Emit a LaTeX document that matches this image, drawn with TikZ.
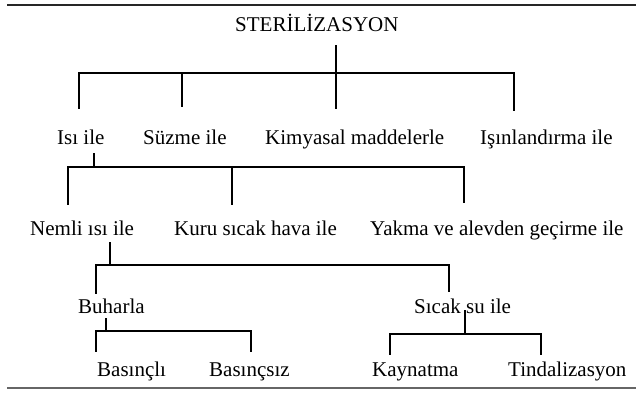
\documentclass[tikz,border=0pt]{standalone}
\usepackage{fontspec}
\setmainfont{Liberation Serif}
\begin{document}
\begin{tikzpicture}[x=1pt,y=-1pt,
  lbl/.style={inner sep=0pt, anchor=base west, font=\fontsize{21}{24}\selectfont},
  conn/.style={line width=1.8pt, line cap=rect, line join=miter},
  rule/.style={line width=2pt, black!85},
  lightrule/.style={line width=1.2pt, black!60}]
\useasboundingbox (0,0) rectangle (643,401);
% rules
\coordinate (tl) at (7,5);
\coordinate (tr) at (636,5);
\coordinate (bl) at (7,388);
\coordinate (br) at (636,388);
\draw[rule] (tl) -- (tr);
\draw[lightrule] (bl) -- (br);
% texts
\node[lbl] (ster) at (235,32) {STERİLİZASYON};
\node[lbl] (isi) at (57,145) {Isı ile};
\node[lbl] (suz) at (143,145) {Süzme ile};
\node[lbl] (kim) at (265,145) {Kimyasal maddelerle};
\node[lbl] (isin) at (480,145) {Işınlandırma ile};
\node[lbl] (nem) at (30,236) {Nemli ısı ile};
\node[lbl] (kuru) at (174,236) {Kuru sıcak hava ile};
\node[lbl] (yak) at (370,236) {Yakma ve alevden geçirme ile};
\node[lbl] (buh) at (78,313) {Buharla};
\node[lbl] (sic) at (414,313) {Sıcak su ile};
\node[lbl] (bas) at (97,376) {Basınçlı};
\node[lbl] (bsz) at (209,376) {Basınçsız};
\node[lbl] (kay) at (372,376) {Kaynatma};
\node[lbl] (tin) at (508,376) {Tindalizasyon};
% level 0
\coordinate (s0) at (336,46);
\coordinate (b0l) at (79,73);
\coordinate (b0r) at (514,73);
\coordinate (d0a) at (79,108);
\coordinate (d0b) at (182,106);
\coordinate (d0c) at (336,108);
\coordinate (d0d) at (514,110);
\draw[conn] (d0a) -- (b0l) -- (b0r) -- (d0d);
\draw[conn] (s0) -- (d0c);
\draw[conn] (d0b) -- (d0b |- b0l);
% level 1
\coordinate (s1) at (94,154);
\coordinate (b1l) at (68,167);
\coordinate (b1r) at (464,167);
\coordinate (d1a) at (68,204);
\coordinate (d1b) at (232,204);
\coordinate (d1c) at (464,202);
\draw[conn] (s1) -- (s1 |- b1l);
\draw[conn] (d1a) -- (b1l) -- (b1r) -- (d1c);
\draw[conn] (d1b) -- (d1b |- b1l);
% level 2
\coordinate (s2) at (110,243);
\coordinate (b2l) at (96,265);
\coordinate (b2r) at (449,265);
\coordinate (d2a) at (96,293);
\coordinate (d2b) at (449,291);
\draw[conn] (s2) -- (s2 |- b2l);
\draw[conn] (d2a) -- (b2l) -- (b2r) -- (d2b);
% level 3 left
\coordinate (s3) at (106,319);
\coordinate (b3l) at (96,331);
\coordinate (b3r) at (251,331);
\coordinate (d3a) at (96,351);
\coordinate (d3b) at (251,351);
\draw[conn] (s3) -- (s3 |- b3l);
\draw[conn] (d3a) -- (b3l) -- (b3r) -- (d3b);
% level 3 right
\coordinate (s4) at (465,311);
\coordinate (b4l) at (390,334);
\coordinate (b4r) at (541,334);
\coordinate (d4a) at (390,354);
\coordinate (d4b) at (541,354);
\draw[conn] (s4) -- (s4 |- b4l);
\draw[conn] (d4a) -- (b4l) -- (b4r) -- (d4b);
\end{tikzpicture}
\end{document}
